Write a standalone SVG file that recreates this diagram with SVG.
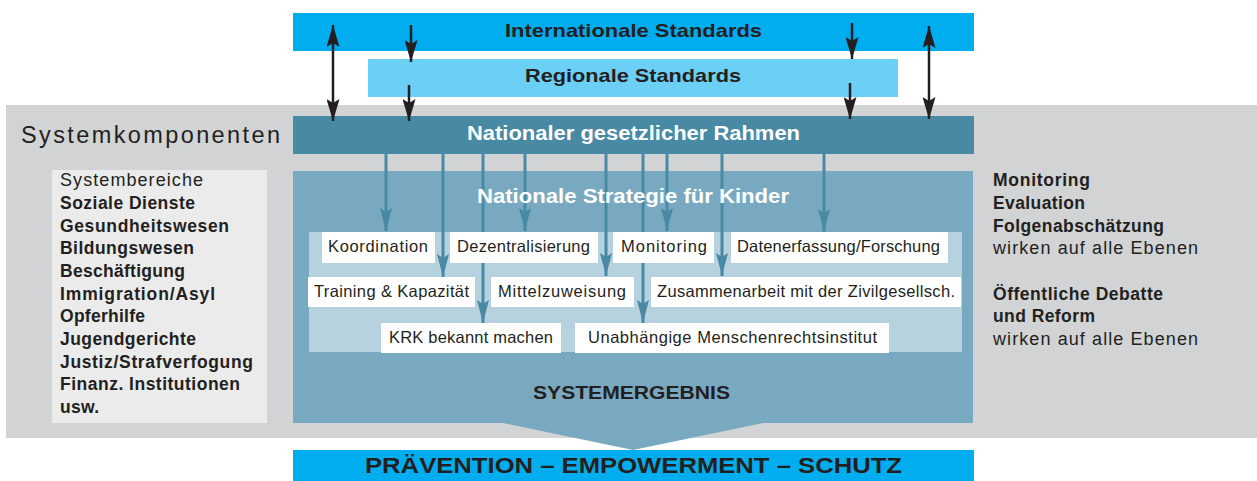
<svg xmlns="http://www.w3.org/2000/svg" width="1257" height="481" viewBox="0 0 1257 481">
<defs>
<style>
.t{font-family:"Liberation Sans",Arial,sans-serif;fill:#231f20}
.b{font-weight:bold}
.w{fill:#ffffff}
.box{fill:#ffffff}
.bk{stroke:#231f20;stroke-width:2.5;fill:none}
.bl{stroke:#4889a4;stroke-width:3;fill:none}
.side{font-size:17.5px}
.sider{font-size:18px}
</style>
<marker id="ak" markerUnits="userSpaceOnUse" markerWidth="22" markerHeight="13" refX="22" refY="6.5" orient="auto-start-reverse" viewBox="0 0 22 13">
<path d="M0,0 L22,6.5 L0,13 L4,6.5 z" fill="#231f20"/>
</marker>
<marker id="ab" markerUnits="userSpaceOnUse" markerWidth="23" markerHeight="12" refX="23" refY="6" orient="auto" viewBox="0 0 23 12">
<path d="M0,0 L23,6 L0,12 L4,6 z" fill="#4889a4"/>
</marker>
</defs>
<rect width="1257" height="481" fill="#ffffff"/>
<g id="bg">
<rect x="6" y="105" width="1251" height="333" fill="#d1d3d4"/>
</g>
<g id="international">
<rect x="293" y="13" width="681" height="38" fill="#00adee"/>
<text class="t b" x="633.5" y="37" font-size="19" text-anchor="middle" textLength="257" lengthAdjust="spacingAndGlyphs">Internationale Standards</text>
</g>
<g id="regional">
<rect x="368" y="59" width="530" height="38" fill="#6ccff6"/>
<text class="t b" x="633" y="82" font-size="19" text-anchor="middle" textLength="216" lengthAdjust="spacingAndGlyphs">Regionale Standards</text>
</g>
<g id="systemkomponenten">
<text class="t" x="21" y="143" font-size="23.5" textLength="259" lengthAdjust="spacing">Systemkomponenten</text>
</g>
<g id="national">
<rect x="293" y="116" width="681" height="38" fill="#4889a4"/>
<text class="t b w" x="633.5" y="140" font-size="20" text-anchor="middle" textLength="333" lengthAdjust="spacingAndGlyphs">Nationaler gesetzlicher Rahmen</text>
</g>
<g id="strategie">
<polygon points="293,171 973,171 973,423 763,423 633,450 503,423 293,423" fill="#79a9c0"/>
<rect x="309" y="232" width="653" height="120" fill="#b6d2df"/>
</g>
<g id="connectors">
<path class="bk" d="M333,25 V121" marker-start="url(#ak)" marker-end="url(#ak)"/>
<path class="bk" d="M929,26 V119" marker-start="url(#ak)" marker-end="url(#ak)"/>
<path class="bk" d="M411,25 V62" marker-end="url(#ak)"/>
<path class="bk" d="M409,85 V121" marker-end="url(#ak)"/>
<path class="bk" d="M852,23 V59" marker-end="url(#ak)"/>
<path class="bk" d="M850,83 V119" marker-end="url(#ak)"/>
<path class="bl" d="M386,154 V231" marker-end="url(#ab)"/>
<path class="bl" d="M443,154 V277" marker-end="url(#ab)"/>
<path class="bl" d="M483,154 V323" marker-end="url(#ab)"/>
<path class="bl" d="M525,154 V231" marker-end="url(#ab)"/>
<path class="bl" d="M606,154 V276" marker-end="url(#ab)"/>
<path class="bl" d="M643,154 V323" marker-end="url(#ab)"/>
<path class="bl" d="M667,154 V231" marker-end="url(#ab)"/>
<path class="bl" d="M722,154 V276" marker-end="url(#ab)"/>
<path class="bl" d="M824,154 V232" marker-end="url(#ab)"/>
</g>
<g id="strategie-label">
<text class="t b w" x="633" y="203" font-size="21" text-anchor="middle" textLength="312" lengthAdjust="spacingAndGlyphs">Nationale Strategie für Kinder</text>
</g>
<g id="koordination"><rect class="box" x="322" y="232" width="113" height="31"/><text class="t" x="328" y="252" font-size="16.5" textLength="100">Koordination</text></g>
<g id="dezentralisierung"><rect class="box" x="450" y="232" width="148" height="31"/><text class="t" x="457" y="252" font-size="16.5" textLength="133">Dezentralisierung</text></g>
<g id="monitoring"><rect class="box" x="613" y="232" width="101" height="31"/><text class="t" x="621" y="252" font-size="16.5" textLength="86">Monitoring</text></g>
<g id="datenerfassung"><rect class="box" x="731" y="232" width="217" height="31"/><text class="t" x="737" y="252" font-size="16.5" textLength="203">Datenerfassung/Forschung</text></g>
<g id="training"><rect class="box" x="308" y="277" width="167" height="30"/><text class="t" x="314" y="297" font-size="16.5" textLength="155">Training &amp; Kapazität</text></g>
<g id="mittelzuweisung"><rect class="box" x="491" y="277" width="143" height="30"/><text class="t" x="498" y="297" font-size="16.5" textLength="128">Mittelzuweisung</text></g>
<g id="zusammenarbeit"><rect class="box" x="651" y="277" width="310" height="30"/><text class="t" x="657" y="297" font-size="16.5" textLength="298">Zusammenarbeit mit der Zivilgesellsch.</text></g>
<g id="krk"><rect class="box" x="381" y="323" width="180" height="30"/><text class="t" x="389" y="343" font-size="16.5" textLength="164">KRK bekannt machen</text></g>
<g id="menschenrechtsinstitut"><rect class="box" x="575" y="323" width="314" height="30"/><text class="t" x="588" y="343" font-size="16.5" textLength="289">Unabhängige Menschenrechtsinstitut</text></g>
<g id="systemergebnis">
<text class="t b" x="631.5" y="399" font-size="19" text-anchor="middle" textLength="197" lengthAdjust="spacingAndGlyphs">SYSTEMERGEBNIS</text>
</g>
<g id="systembereiche">
<rect x="52" y="170" width="215" height="253" fill="#ebebec"/>
<text class="t sider" x="60" y="186" textLength="143">Systembereiche</text>
<text class="t b side" x="60" y="209" textLength="135">Soziale Dienste</text>
<text class="t b side" x="60" y="232" textLength="169">Gesundheitswesen</text>
<text class="t b side" x="60" y="254" textLength="134">Bildungswesen</text>
<text class="t b side" x="60" y="277" textLength="125">Beschäftigung</text>
<text class="t b side" x="60" y="300" textLength="155">Immigration/Asyl</text>
<text class="t b side" x="60" y="322" textLength="85">Opferhilfe</text>
<text class="t b side" x="60" y="345" textLength="136">Jugendgerichte</text>
<text class="t b side" x="60" y="368" textLength="193">Justiz/Strafverfogung</text>
<text class="t b side" x="60" y="390" textLength="180">Finanz. Institutionen</text>
<text class="t b side" x="60" y="413" textLength="39">usw.</text>
</g>
<g id="monitoring-hinweis">
<text class="t b side" x="993" y="186" textLength="97">Monitoring</text>
<text class="t b side" x="993" y="209" textLength="92">Evaluation</text>
<text class="t b side" x="993" y="232" textLength="171">Folgenabschätzung</text>
<text class="t sider" x="993" y="254" textLength="205">wirken auf alle Ebenen</text>
</g>
<g id="debatte-hinweis">
<text class="t b side" x="993" y="300" textLength="170">Öffentliche Debatte</text>
<text class="t b side" x="993" y="322" textLength="102">und Reform</text>
<text class="t sider" x="993" y="345" textLength="205">wirken auf alle Ebenen</text>
</g>
<g id="ergebnis">
<rect x="293" y="450" width="681" height="31" fill="#00adee"/>
<text class="t b" x="633.5" y="473" font-size="22" text-anchor="middle" textLength="537" lengthAdjust="spacingAndGlyphs">PRÄVENTION – EMPOWERMENT – SCHUTZ</text>
</g>
</svg>
